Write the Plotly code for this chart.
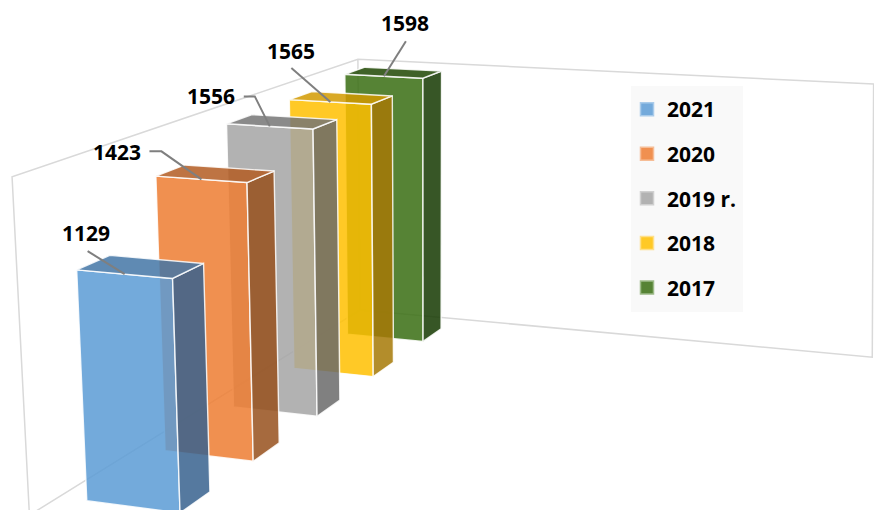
import numpy as np
import plotly.graph_objects as go

categories = ["2021", "2020", "2019 r.", "2018", "2017"]
values = [1129, 1423, 1556, 1565, 1598]
front_colors = ["rgba(91,155,213,0.85)", "rgba(237,125,49,0.85)", "rgba(165,165,165,0.85)", "rgba(255,192,0,0.85)", "rgba(56,109,18,0.85)"]
side_colors = ["rgba(55,98,142,0.85)", "rgba(150,80,28,0.85)", "rgba(106,106,106,0.85)", "rgba(166,121,6,0.85)", "rgba(20,56,0,0.85)"]
top_colors = ["rgba(67,117,166,0.85)", "rgba(179,92,34,0.85)", "rgba(118,118,118,0.85)", "rgba(210,154,0,0.85)", "rgba(31,71,2,0.85)"]
swatch_colors = ["#74AADB", "#F09050", "#B2B2B2", "#FFC926", "#568335"]
swatch_borders = ["#A9CBEA", "#F6BD96", "#D0D0D0", "#FFE08A", "#9DBB89"]
leader_bends = [[], [(-40, -28)], [(-15, -30)], [], []]
leader_ends = [(-37, -23), (-52, -28), (-26, -30), (-39, -34), (22, -35)]
label_offsets = [(-39, -41), (-84, -27), (-59, -30), (-39, -51), (21, -53)]

# Perspective camera of the 3D chart: vanishing points of the three world axes
ORIGIN = np.array([360.0, 310.0])
VP_WIDTH = np.array([-5322.0, -213.0])
VP_DEPTH = np.array([1253.82, -244.84])
VP_HEIGHT = np.array([427.017, 8278.91])
BAR_LEFT, BAR_RIGHT = -0.00386634, -0.0164766
REAR_DEPTH, DEPTH_STEP, BAR_DEPTH = -0.0170823, -0.0534994, -0.0209462
PER_VALUE = -1.89915e-5
WALL_TOP = -0.0305
WALL_NEAR = -0.27
WALL_FAR_TOP, WALL_FAR_BOTTOM = -0.0807, -0.0827


def P(r, t, s):
    return (ORIGIN + r * VP_WIDTH + t * VP_DEPTH + s * VP_HEIGHT) / (1 + r + t + s)


fig = go.Figure()


def poly(pts, fill=None, line="rgba(255,255,255,0.85)", width=1.4, close=True, **kw):
    xs = [q[0] for q in pts]
    ys = [q[1] for q in pts]
    if close:
        xs.append(xs[0])
        ys.append(ys[0])
    fig.add_trace(go.Scatter(x=xs, y=ys, mode="lines", fill="toself" if fill else None, fillcolor=fill,
                             line=dict(color=line, width=width), hoverinfo="skip", showlegend=False, **kw))


wall = "#d9d9d9"
poly([P(0, WALL_NEAR, 0), P(0, 0, 0), P(WALL_FAR_BOTTOM, 0, 0), P(WALL_FAR_TOP, 0, WALL_TOP),
      P(0, 0, WALL_TOP), P(0, WALL_NEAR, WALL_TOP)], line=wall, width=1.5)
poly([P(0, 0, 0), P(0, 0, WALL_TOP)], line=wall, width=1.5, close=False)

n = len(values)
for k in range(n):  # rear bar first, so the front bars overlay it
    j = n - 1 - k
    tb = REAR_DEPTH + k * DEPTH_STEP
    tf = tb + BAR_DEPTH
    s = PER_VALUE * values[j]
    poly([P(BAR_LEFT, tf, 0), P(BAR_RIGHT, tf, 0), P(BAR_RIGHT, tf, s), P(BAR_LEFT, tf, s)],
         front_colors[j], customdata=[values[j]] * 5)
    poly([P(BAR_RIGHT, tf, 0), P(BAR_RIGHT, tb, 0), P(BAR_RIGHT, tb, s), P(BAR_RIGHT, tf, s)], side_colors[j])
    poly([P(BAR_LEFT, tf, s), P(BAR_RIGHT, tf, s), P(BAR_RIGHT, tb, s), P(BAR_LEFT, tb, s)], top_colors[j])

for j in range(n):
    k = n - 1 - j
    tf = REAR_DEPTH + k * DEPTH_STEP + BAR_DEPTH
    s = PER_VALUE * values[j]
    anchor = (P(BAR_LEFT, tf, s) + P(BAR_RIGHT, tf, s)) / 2
    pts = [anchor] + [anchor + np.array(b) for b in leader_bends[j]] + [anchor + np.array(leader_ends[j])]
    poly(pts, line="#7f7f7f", width=2, close=False)
    fig.add_annotation(x=anchor[0] + label_offsets[j][0], y=anchor[1] + label_offsets[j][1],
                       text=f"<b>{values[j]}</b>", showarrow=False,
                       font=dict(family="Open Sans", size=21, color="black"))

for j in range(n):
    fig.add_trace(go.Scatter(x=[None], y=[None], mode="markers", name=categories[j], legendgroup=categories[j],
                             marker=dict(symbol="square", size=13, color=swatch_colors[j],
                                         line=dict(color=swatch_borders[j], width=1.5))))

fig.add_shape(type="rect", xref="paper", yref="paper", x0=631 / 874, x1=743 / 874, y0=1 - 312 / 510, y1=1 - 86 / 510,
              fillcolor="#f9f9f9", line_width=0, layer="below")
fig.update_layout(width=874, height=510, margin=dict(l=0, r=0, t=0, b=0), paper_bgcolor="white",
                  plot_bgcolor="rgba(0,0,0,0)",
                  xaxis=dict(range=[0, 874], visible=False, fixedrange=True),
                  yaxis=dict(range=[510, 0], visible=False, fixedrange=True),
                  legend=dict(x=627 / 874, y=1 - 89 / 510, xanchor="left", yanchor="top", bgcolor="rgba(0,0,0,0)",
                              tracegroupgap=14.3,
                              font=dict(family="Open Sans", size=21, color="black", weight="bold"),
                              itemclick=False, itemdoubleclick=False))
fig.write_html("out.html", config={"displayModeBar": False}, post_script="document.body.style.margin='0';")
